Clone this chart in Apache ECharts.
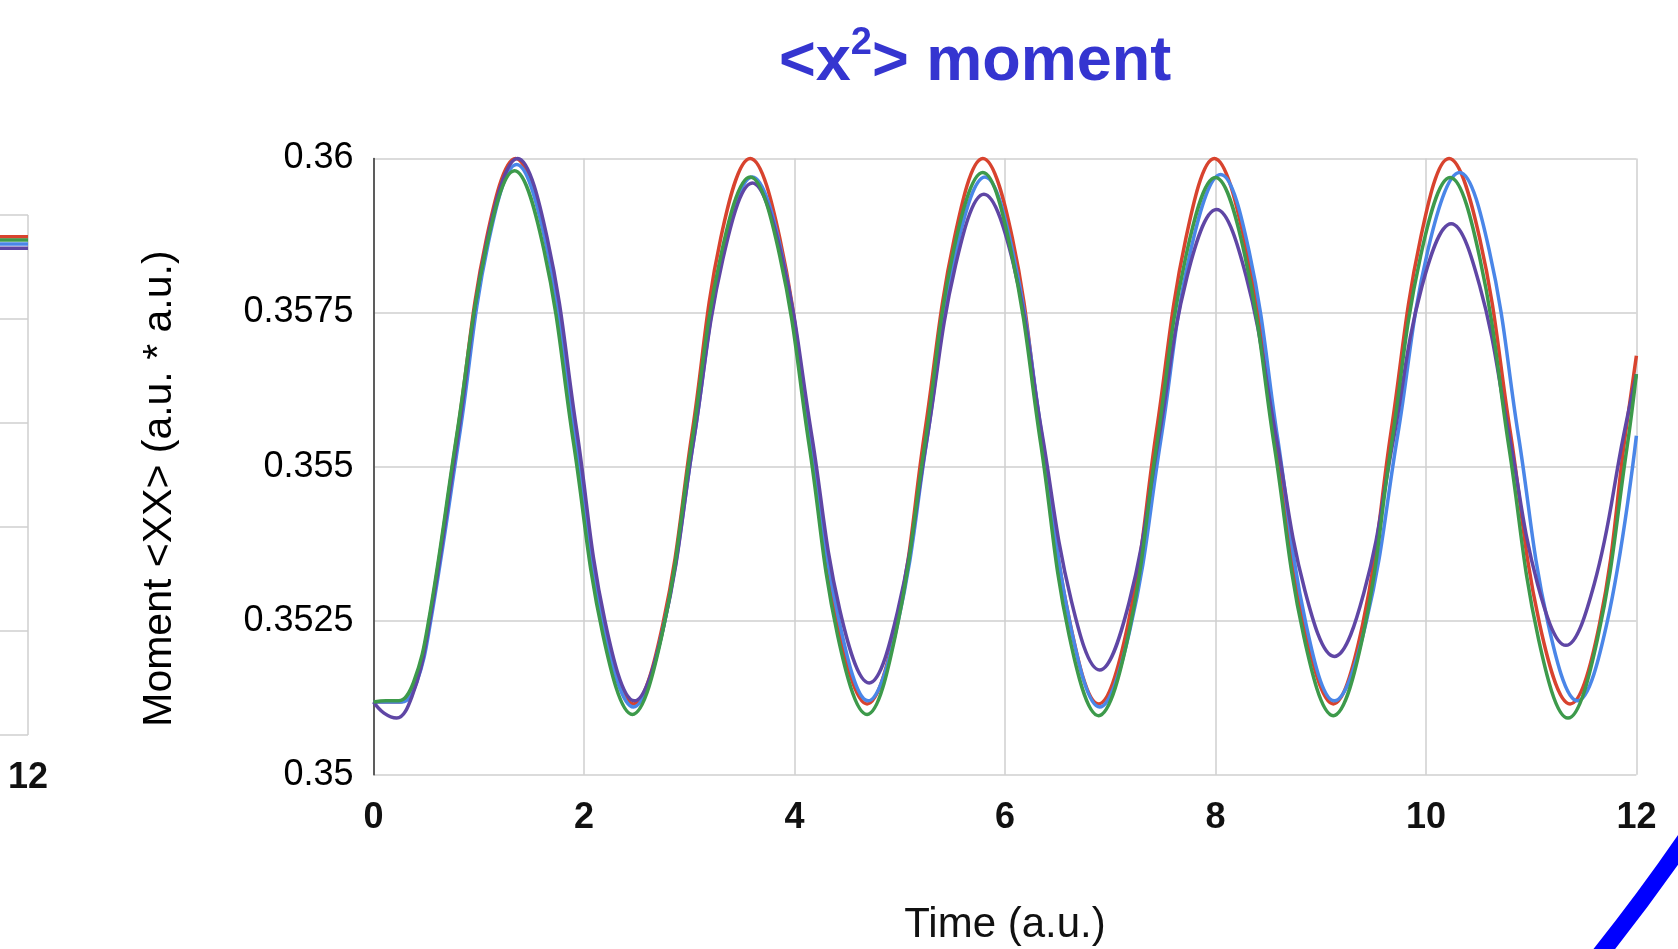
<!DOCTYPE html>
<html>
<head>
<meta charset="utf-8">
<script src="https://cdn.jsdelivr.net/npm/echarts@6/dist/echarts.min.js"></script>
<style>
  html, body { margin: 0; padding: 0; background: #fff; }
  #chart { width: 1678px; height: 949px; }
</style>
</head>
<body>
<div id="chart"></div>
<script>
// axis ticks
const xTicks = [0, 2, 4, 6, 8, 10, 12];
const yTicks = [0.35, 0.3525, 0.355, 0.3575, 0.36];

// <x^2> moment, [time, value]
const red = [[0,0.35118],[0.12,0.35118],[0.25,0.35118],[0.39,0.3515],[0.525,0.35245],[0.8,0.35558],[1.075,0.35871],[1.35,0.36],
  [1.63,0.35871],[1.91,0.35558],[2.19,0.35245],[2.47,0.35115],
  [2.75,0.35245],[3.03,0.35558],[3.3,0.35871],[3.58,0.36],
  [3.86,0.35871],[4.14,0.35558],[4.41,0.35245],[4.69,0.35115],
  [4.97,0.35245],[5.24,0.35558],[5.52,0.35871],[5.79,0.36],
  [6.07,0.35871],[6.34,0.35558],[6.62,0.35245],[6.89,0.35115],
  [7.17,0.35245],[7.44,0.35558],[7.72,0.35871],[7.99,0.36],
  [8.27,0.35871],[8.56,0.35558],[8.84,0.35245],[9.12,0.35115],
  [9.4,0.35245],[9.67,0.35558],[9.95,0.35871],[10.22,0.36],
  [10.51,0.35871],[10.8,0.35558],[11.08,0.35245],[11.37,0.35115],
  [11.65,0.35245],[11.9,0.35558],[12,0.3568]];
const blue = [[0,0.35118],[0.12,0.35118],[0.27,0.35118],[0.41,0.3515],[0.54,0.35246],[0.82,0.35554],[1.09,0.35862],[1.36,0.3599],
  [1.64,0.35861],[1.92,0.3555],[2.19,0.35239],[2.47,0.3511],
  [2.75,0.35236],[3.04,0.3554],[3.32,0.35844],[3.6,0.3597],
  [3.88,0.35845],[4.15,0.35545],[4.43,0.35245],[4.7,0.3512],
  [4.98,0.35245],[5.26,0.35545],[5.53,0.35845],[5.81,0.3597],
  [6.08,0.35844],[6.36,0.3554],[6.63,0.35236],[6.9,0.3511],
  [7.19,0.35237],[7.48,0.35542],[7.76,0.35847],[8.05,0.35974],
  [8.32,0.35849],[8.59,0.35547],[8.86,0.35245],[9.13,0.3512],
  [9.43,0.35246],[9.73,0.35549],[10.02,0.35852],[10.32,0.35977],
  [10.6,0.35852],[10.88,0.35549],[11.16,0.35246],[11.44,0.3512],
  [11.72,0.35246],[12,0.3555]];
const purple = [[0,0.35118],[0.1,0.351],[0.22,0.35092],[0.365,0.35127],[0.51,0.35225],[0.8,0.35546],[1.08,0.35867],[1.37,0.36],
  [1.65,0.35871],[1.93,0.3556],[2.2,0.35249],[2.48,0.3512],
  [2.76,0.35243],[3.04,0.3554],[3.32,0.35837],[3.6,0.3596],
  [3.88,0.35841],[4.16,0.35555],[4.43,0.35268],[4.71,0.35149],
  [4.98,0.35265],[5.26,0.35546],[5.53,0.35826],[5.8,0.35942],
  [6.08,0.35829],[6.35,0.35556],[6.63,0.35283],[6.9,0.3517],
  [7.18,0.3528],[7.46,0.35544],[7.73,0.35808],[8.01,0.35917],
  [8.29,0.3581],[8.57,0.35555],[8.85,0.35299],[9.13,0.35192],
  [9.41,0.35295],[9.69,0.35543],[9.96,0.35791],[10.24,0.35894],
  [10.51,0.35794],[10.79,0.35552],[11.06,0.3531],[11.33,0.3521],
  [11.6,0.3531],[11.88,0.35552],[12,0.3565]];
const green = [[0,0.35118],[0.12,0.3512],[0.24,0.3512],[0.38,0.3515],[0.52,0.35246],[0.79,0.3555],[1.07,0.35854],[1.34,0.3598],
  [1.62,0.35851],[1.9,0.35539],[2.18,0.35227],[2.46,0.35098],
  [2.74,0.35226],[3.02,0.35534],[3.3,0.35842],[3.58,0.3597],
  [3.86,0.35842],[4.14,0.35534],[4.41,0.35226],[4.69,0.35098],
  [4.96,0.35227],[5.24,0.35538],[5.51,0.35849],[5.79,0.35977],
  [6.06,0.35848],[6.34,0.35537],[6.61,0.35226],[6.89,0.35096],
  [7.17,0.35224],[7.44,0.35533],[7.72,0.35842],[8,0.35969],
  [8.28,0.35842],[8.56,0.35533],[8.84,0.35224],[9.12,0.35096],
  [9.4,0.35224],[9.67,0.35533],[9.95,0.35842],[10.23,0.35969],
  [10.51,0.3584],[10.79,0.3553],[11.07,0.3522],[11.35,0.35092],
  [11.63,0.3522],[11.91,0.3553],[12,0.3565]];

// the cut-off chart at the left edge (only its last stretch is visible)
const leftTimes = [10, 11, 12];
const leftRed = [4.79, 4.79, 4.79];
const leftGreen = [4.76, 4.76, 4.76];
const leftBlue = [4.72, 4.72, 4.72];
const leftPurple = [4.68, 4.68, 4.68];

const colors = { red: '#d8432e', blue: '#4a86e8', purple: '#5f46a5', green: '#3d9a4b' };
const font = 'Liberation Sans, Arial, sans-serif';

const chart = echarts.init(document.getElementById('chart'));

const line = (name, data, color, xi, yi) => ({
  name, type: 'line', data, xAxisIndex: xi, yAxisIndex: yi,
  showSymbol: false, smooth: 0.4, clip: false,
  lineStyle: { color, width: 3.5 }, itemStyle: { color }
});
const zip = (xs, ys) => xs.map((x, i) => [x, ys[i]]);

chart.setOption({
  backgroundColor: '#fff',
  animation: false,
  title: {
    text: '{a|<x}{s|2}{a|> moment}',
    left: 774, top: 20,
    textStyle: {
      rich: {
        a: { fontSize: 63, fontWeight: 'bold', color: '#3535d0', fontFamily: font, lineHeight: 76 },
        s: { fontSize: 38, fontWeight: 'bold', color: '#3535d0', fontFamily: font, verticalAlign: 'top' }
      }
    }
  },
  grid: [
    { left: 373.5, right: 41.6, top: 158.4, bottom: 174.2, outerBoundsMode: 'none' },
    { left: -1234, right: 1650, top: 215, bottom: 214, outerBoundsMode: 'none' }
  ],
  xAxis: [
    {
      type: 'value', gridIndex: 0, min: xTicks[0], max: xTicks[xTicks.length - 1], interval: 2,
      name: 'Time (a.u.)', nameLocation: 'middle', nameGap: 130,
      nameTextStyle: { fontSize: 42, color: '#111', fontFamily: font },
      axisLine: { show: false }, axisTick: { show: false },
      axisLabel: { fontSize: 36, fontWeight: 'bold', color: '#111', margin: 25, fontFamily: font },
      splitLine: { lineStyle: { color: '#cfcfcf', width: 1.5 } }
    },
    {
      type: 'value', gridIndex: 1, min: 0, max: 12, interval: 2,
      axisLine: { show: false }, axisTick: { show: false },
      axisLabel: { fontSize: 36, fontWeight: 'bold', color: '#111', margin: 25, fontFamily: font },
      splitLine: { lineStyle: { color: '#cfcfcf', width: 1.5 } }
    }
  ],
  yAxis: [
    {
      type: 'value', gridIndex: 0, min: yTicks[0], max: yTicks[yTicks.length - 1], interval: 0.0025,
      name: 'Moment <XX> (a.u. * a.u.)', nameLocation: 'middle', nameGap: 193, nameRotate: 90,
      nameTextStyle: { fontSize: 41, color: '#000', fontFamily: font, padding: [0, 44, 0, 0] },
      axisLine: { show: true, lineStyle: { color: '#333', width: 1.5 } }, axisTick: { show: false },
      axisLabel: { fontSize: 36, color: '#000', margin: 20, fontFamily: font },
      splitLine: { lineStyle: { color: '#cfcfcf', width: 1.5 } }
    },
    {
      type: 'value', gridIndex: 1, min: 0, max: 5, interval: 1,
      axisLine: { show: false }, axisTick: { show: false }, axisLabel: { show: false },
      splitLine: { lineStyle: { color: '#cfcfcf', width: 1.5 } }
    }
  ],
  series: [
    line('red', red, colors.red, 0, 0),
    line('blue', blue, colors.blue, 0, 0),
    line('purple', purple, colors.purple, 0, 0),
    line('green', green, colors.green, 0, 0),
    line('red-left', zip(leftTimes, leftRed), colors.red, 1, 1),
    line('green-left', zip(leftTimes, leftGreen), colors.green, 1, 1),
    line('blue-left', zip(leftTimes, leftBlue), colors.blue, 1, 1),
    line('purple-left', zip(leftTimes, leftPurple), colors.purple, 1, 1)
  ],
  graphic: [{
    type: 'arc', silent: true,
    shape: { cx: 37.5, cy: -294, r: 2000, startAngle: 33 * Math.PI / 180, endAngle: 40 * Math.PI / 180 },
    style: { stroke: '#0000ff', lineWidth: 17, fill: null }
  }]
});
</script>
</body>
</html>
